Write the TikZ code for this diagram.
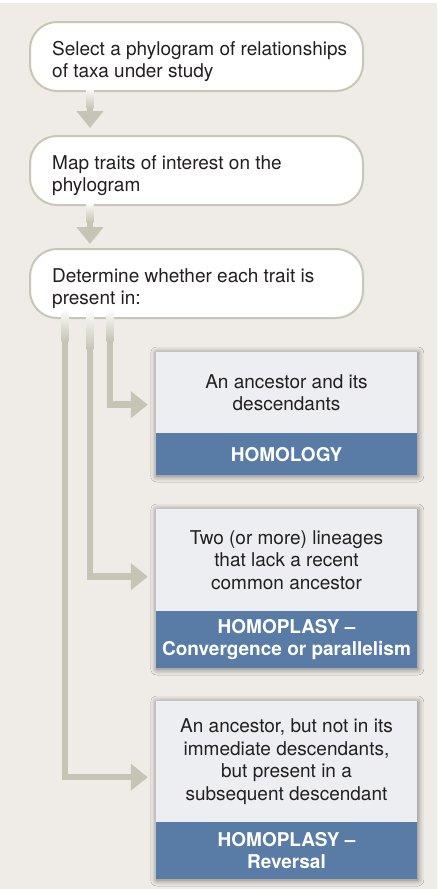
\documentclass[tikz,border=0pt]{standalone}
\usepackage{fontspec}
\setmainfont{TeX Gyre Heros}
\usetikzlibrary{arrows.meta,shadows.blur}
\definecolor{bgc}{RGB}{239,236,231}
\definecolor{pillborder}{RGB}{200,198,182}
\definecolor{arrc}{RGB}{197,196,181}
\definecolor{txtc}{RGB}{35,31,32}
\definecolor{cardc}{RGB}{236,238,241}
\definecolor{bluec}{RGB}{88,124,166}
\begin{document}
\begin{tikzpicture}[x=1pt,y=-1pt,
  pill/.style={draw=pillborder, line width=2pt, fill=white, rounded corners=27pt,
    minimum width=333pt, minimum height=69pt, inner sep=0pt},
  ptext/.style={anchor=north west, inner sep=0pt, align=left, text=txtc,
    font=\fontsize{19}{22}\selectfont},
  card/.style={fill=cardc, minimum width=261pt, inner sep=0pt,
    blur shadow={shadow xshift=0.8pt, shadow yshift=-0.8pt, shadow blur radius=6pt, shadow opacity=55}},
  cardtop/.style={fill=cardc, minimum width=261pt, inner sep=0pt, align=center, text=txtc,
    font=\fontsize{19}{22.5}\selectfont},
  cardbot/.style={fill=bluec, minimum width=261pt, inner sep=0pt, align=center, text=white,
    font=\fontsize{19}{22.5}\selectfont\bfseries},
  conn/.style={draw=arrc, line width=6.5pt, -{Triangle[width=26pt,length=17pt]}},
  fade/.style={top color=white, bottom color=arrc},
]
\useasboundingbox (0,0) rectangle (437,889);
\fill[white] (0,0) rectangle (437,889);
\fill[bgc] (0,3) rectangle (437,889);

% pill boxes
\node[pill, anchor=north west] (b1) at (29,21) {};
\node[pill, anchor=north west] (b2) at (29,135) {};
\node[pill, anchor=north west] (b3) at (29,248) {};

% cards
\node[card, minimum height=123pt, anchor=north] (cA) at (286.5,352) {};
\node[card, minimum height=159pt, anchor=north] (cB) at (286.5,509) {};
\node[card, minimum height=178pt, anchor=north] (cC) at (286.5,701) {};

% connectors (start just inside the boxes)
\draw[conn, shorten >=7pt] ([xshift=61pt,yshift=4pt]b1.south west) -- ([xshift=61pt]b2.north west);
\draw[conn, shorten >=4pt] ([xshift=61pt,yshift=4pt]b2.south west) -- ([xshift=61pt]b3.north west);
\draw[conn, shorten >=8pt] ([xshift=81pt,yshift=10pt]b3.south west) |- ([yshift=9pt]cA.west);
\draw[conn, shorten >=8pt] ([xshift=61pt,yshift=10pt]b3.south west) |- ([yshift=12pt]cB.west);
\draw[conn, shorten >=8pt] ([xshift=36pt,yshift=10pt]b3.south west) |- ([yshift=13pt]cC.west);

% fading near the start of each connector
\shade[fade] ([xshift=57.6pt,yshift=4.5pt]b1.south west) rectangle ([xshift=64.4pt,yshift=-16pt]b1.south west);
\shade[fade] ([xshift=57.6pt,yshift=4.5pt]b2.south west) rectangle ([xshift=64.4pt,yshift=-16pt]b2.south west);
\shade[fade] ([xshift=77.6pt,yshift=10.5pt]b3.south west) rectangle ([xshift=84.4pt,yshift=-22pt]b3.south west);
\shade[fade] ([xshift=57.6pt,yshift=10.5pt]b3.south west) rectangle ([xshift=64.4pt,yshift=-30pt]b3.south west);
\shade[fade] ([xshift=32.6pt,yshift=10.5pt]b3.south west) rectangle ([xshift=39.4pt,yshift=-22pt]b3.south west);

% pill texts
\node[ptext] (t1) at (52,41.5) {Select a phylogram of relationships\\of taxa under study};
\node[ptext] (t2) at (52,155.5) {Map traits of interest on the\\phylogram};
\node[ptext] (t3) at (52,268.5) {Determine whether each trait is\\present in:};

% card contents
\node[cardtop, minimum height=81pt, anchor=north] (cAt) at (cA.north) {An ancestor and its\\descendants};
\node[cardbot, minimum height=42pt, anchor=south] (cAb) at (cA.south) {HOMOLOGY};
\node[cardtop, minimum height=102pt, anchor=north] (cBt) at (cB.north) {Two (or more) lineages\\that lack a recent\\common ancestor};
\node[cardbot, minimum height=57pt, anchor=south] (cBb) at (cB.south) {HOMOPLASY –\\Convergence or parallelism};
\node[cardtop, minimum height=121pt, anchor=north] (cCt) at (cC.north) {An ancestor, but not in its\\immediate descendants,\\but present in a\\subsequent descendant};
\node[cardbot, minimum height=57pt, anchor=south] (cCb) at (cC.south) {HOMOPLASY –\\Reversal};
\end{tikzpicture}
\end{document}
